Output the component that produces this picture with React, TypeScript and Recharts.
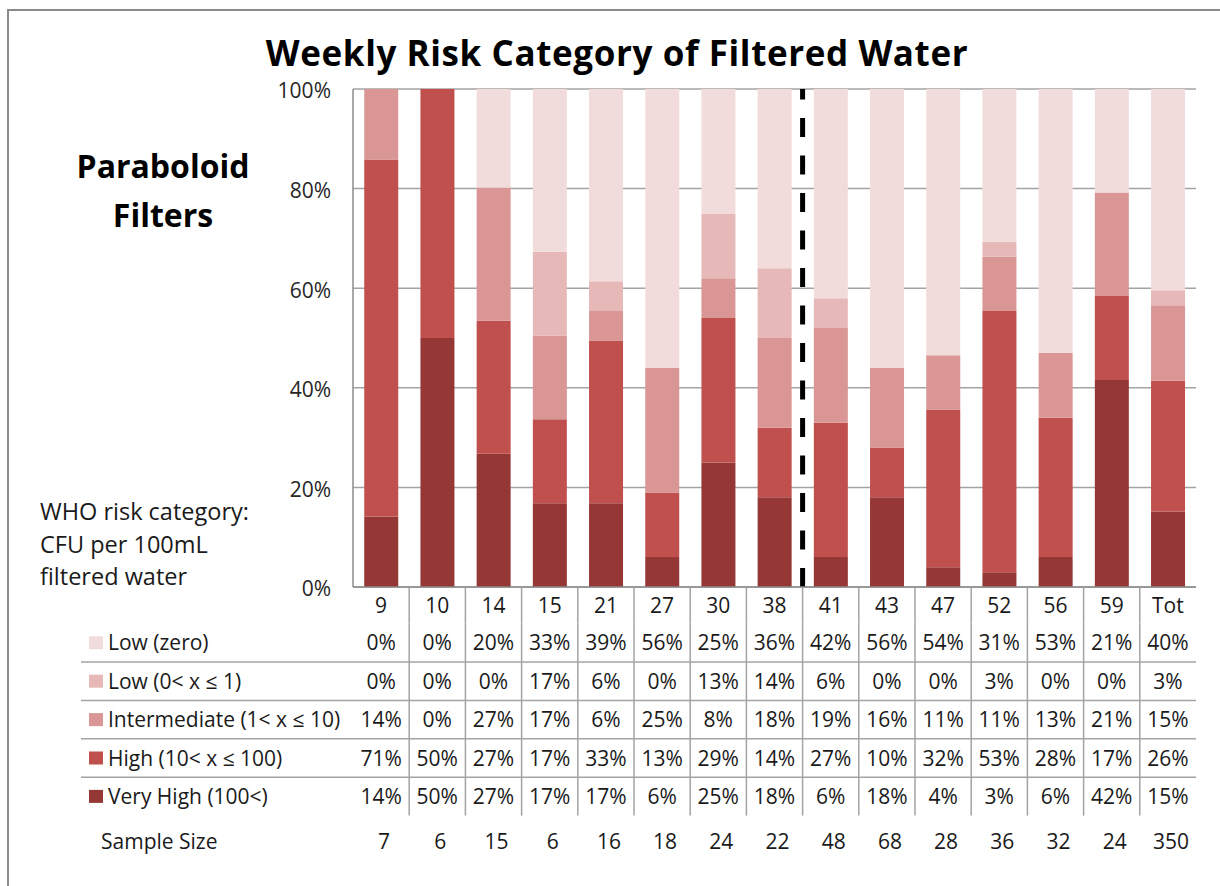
import React from 'react'
import { BarChart, Bar, XAxis, YAxis, CartesianGrid, ReferenceLine } from 'recharts'

const WEEKS = ['9', '10', '14', '15', '21', '27', '30', '38', '41', '43', '47', '52', '56', '59', 'Tot']
const LOW_ZERO = [0, 0, 20, 33, 39, 56, 25, 36, 42, 56, 54, 31, 53, 21, 40]
const LOW_ONE = [0, 0, 0, 17, 6, 0, 13, 14, 6, 0, 0, 3, 0, 0, 3]
const INTERMEDIATE = [14, 0, 27, 17, 6, 25, 8, 18, 19, 16, 11, 11, 13, 21, 15]
const HIGH = [71, 50, 27, 17, 33, 13, 29, 14, 27, 10, 32, 53, 28, 17, 26]
const VERY_HIGH = [14, 50, 27, 17, 17, 6, 25, 18, 6, 18, 4, 3, 6, 42, 15]
const SAMPLE_SIZE = [7, 6, 15, 6, 16, 18, 24, 22, 48, 68, 28, 36, 32, 24, 350]
const Y_TICKS = [0, 0.2, 0.4, 0.6, 0.8, 1]
const SPLIT_WEEK = '41' // dashed divider sits just before this week

// rows of the data table, top to bottom
const ROWS = [
  { key: 'lowZero', label: 'Low (zero)', color: '#F2DCDB', values: LOW_ZERO },
  { key: 'lowOne', label: 'Low (0< x ≤ 1)', color: '#E6B9B8', values: LOW_ONE },
  { key: 'intermediate', label: 'Intermediate (1< x ≤ 10)', color: '#D99694', values: INTERMEDIATE },
  { key: 'high', label: 'High (10< x ≤ 100)', color: '#C0504D', values: HIGH },
  { key: 'veryHigh', label: 'Very High (100<)', color: '#953735', values: VERY_HIGH },
]

const data = WEEKS.map((week, i) => {
  const d: Record<string, string | number> = { week }
  ROWS.forEach((r) => { d[r.key] = r.values[i] })
  return d
})

// layout
const W = 1220
const H = 886
const PLOT_L = 353
const PLOT_R = 1196
const PLOT_T = 89
const PLOT_B = 587
const Y_AXIS_W = 70
const COL_W = (PLOT_R - PLOT_L) / WEEKS.length
const CAT_H = 36.6
const ROW_H = 38.4
const SAMPLE_H = 51
const TABLE_L = 81
const LINE = '#a3a3a3'
const TEXT = '#1a1a1a'
const FONT = '"Open Sans", sans-serif'
const FS = 21

function WeekTick({ x, y, payload, index }: any) {
  return (
    <g>
      <text x={x} y={y + CAT_H / 2} dy="0.36em" textAnchor="middle" fontSize={FS} fill={TEXT}>
        {payload.value}
      </text>
      {index < WEEKS.length - 1 && (
        <line x1={x + COL_W / 2} x2={x + COL_W / 2} y1={y} y2={y + CAT_H} stroke={LINE} strokeWidth={1.5} />
      )}
    </g>
  )
}

function rowTick(r: typeof ROWS[number], rowIndex: number) {
  return ({ x, y, index }: any) => (
    <g>
      {index === 0 && (
        <>
          {rowIndex > 0 && <line x1={TABLE_L} x2={PLOT_R} y1={y} y2={y} stroke={LINE} strokeWidth={1.5} />}
          <rect x={89} y={y + ROW_H / 2 - 6.5} width={14} height={13} fill={r.color} />
          <text x={108} y={y + ROW_H / 2} dy="0.36em" fontSize={FS} fill={TEXT}>{r.label}</text>
        </>
      )}
      <text x={x} y={y + ROW_H / 2} dy="0.36em" textAnchor="middle" fontSize={FS} fill={TEXT}>
        {r.values[index]}%
      </text>
      {index < WEEKS.length - 1 && (
        <line x1={x + COL_W / 2} x2={x + COL_W / 2} y1={y} y2={y + ROW_H} stroke={LINE} strokeWidth={1.5} />
      )}
    </g>
  )
}

function SampleTick({ x, y, index }: any) {
  return (
    <g>
      {index === 0 && (
        <text x={101} y={y + SAMPLE_H / 2} dy="0.36em" fontSize={FS} fill={TEXT}>Sample Size</text>
      )}
      <text x={x + 3} y={y + SAMPLE_H / 2} dy="0.36em" textAnchor="middle" fontSize={FS} fill={TEXT}>
        {SAMPLE_SIZE[index]}
      </text>
    </g>
  )
}

export default function App() {
  const bottom = H - PLOT_B - CAT_H - ROWS.length * ROW_H - SAMPLE_H
  // bars stack from the bottom: very high first
  const stackOrder = [...ROWS].reverse()

  return (
    <div style={{ position: 'absolute', left: 0, top: 0, width: W, height: H, background: '#fff', fontFamily: FONT }}>
      <BarChart
        width={W}
        height={H}
        data={data}
        stackOffset="expand"
        barCategoryGap="20%"
        margin={{ top: PLOT_T, right: W - PLOT_R, left: PLOT_L - Y_AXIS_W, bottom }}
      >
        <CartesianGrid vertical={false} stroke={LINE} strokeWidth={1.5} />
        <YAxis
          width={Y_AXIS_W}
          domain={[0, 1]}
          ticks={Y_TICKS}
          tickFormatter={(v: number) => `${Math.round(v * 100)}%`}
          tick={{ fontSize: FS, fill: '#262626', dy: 2 }}
          tickLine={false}
          tickSize={0}
          tickMargin={22}
          axisLine={{ stroke: '#8c8c8c', strokeWidth: 1.5 }}
        />
        <XAxis
          dataKey="week"
          height={CAT_H}
          interval={0}
          tickLine={false}
          tickSize={0}
          tickMargin={0}
          axisLine={{ stroke: '#8c8c8c', strokeWidth: 1.5 }}
          tick={WeekTick}
        />
        {/* table rows are extra bottom axes; ids sort in row order */}
        {ROWS.map((r, i) => (
          <XAxis
            key={r.key}
            xAxisId={`row${i}`}
            dataKey="week"
            height={ROW_H}
            interval={0}
            tickLine={false}
            tickSize={0}
            tickMargin={0}
            axisLine={false}
            tick={rowTick(r, i)}
          />
        ))}
        <XAxis
          xAxisId="row5"
          dataKey="week"
          height={SAMPLE_H}
          interval={0}
          tickLine={false}
          tickSize={0}
          tickMargin={0}
          axisLine={false}
          tick={SampleTick}
        />
        {stackOrder.map((r) => (
          <Bar key={r.key} dataKey={r.key} name={r.label} stackId="risk" fill={r.color} isAnimationActive={false} />
        ))}
        <ReferenceLine
          x={SPLIT_WEEK}
          position="start"
          stroke="#000"
          strokeWidth={5}
          strokeDasharray="19 18.5"
        />
      </BarChart>

      <svg width={W} height={H} style={{ position: 'absolute', left: 0, top: 0, pointerEvents: 'none' }}>
        <polyline points={`8,${H + 5} 8,10 ${W + 5},10`} fill="none" stroke="#8a8a8a" strokeWidth={2} />
        <text x={617} y={66} textAnchor="middle" fontSize={35} letterSpacing={0.6} fontWeight={700} fill="#000">
          Weekly Risk Category of Filtered Water
        </text>
        <text x={163} y={178} textAnchor="middle" fontSize={32} fontWeight={700} fill="#000">Paraboloid</text>
        <text x={163} y={227} textAnchor="middle" fontSize={32} fontWeight={700} fill="#000">Filters</text>
        <text x={40} y={520} fontSize={23.5} fill={TEXT}>WHO risk category:</text>
        <text x={40} y={553} fontSize={23.5} fill={TEXT}>CFU per 100mL</text>
        <text x={40} y={585} fontSize={23.5} fill={TEXT}>filtered water</text>
      </svg>
    </div>
  )
}
